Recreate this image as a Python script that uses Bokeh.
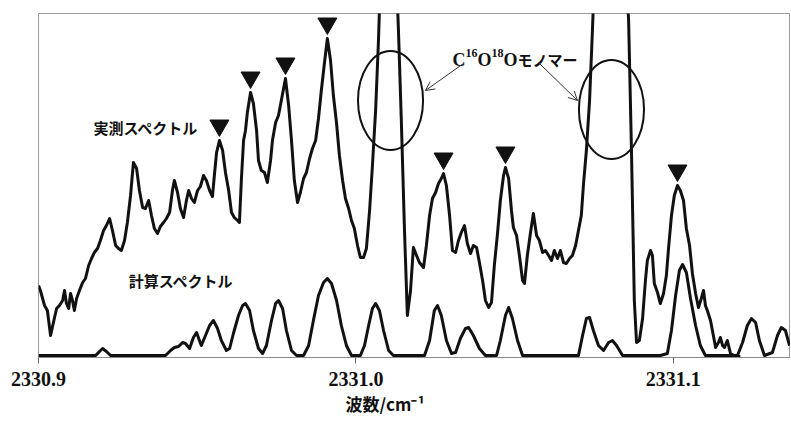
from bokeh.plotting import figure
from bokeh.models import Range1d, FixedTicker, PrintfTickFormatter, Title, Arrow, OpenHead
from bokeh.core.properties import value
from bokeh.embed import file_html
from bokeh.resources import INLINE
import numpy as np

# ---------------- data ----------------
# observed spectrum (wavenumber / cm-1, intensity a.u.)
obs_x = [
    2330.9000, 2330.9006, 2330.9019, 2330.9028, 2330.9038, 2330.9047, 2330.9057, 2330.9066, 2330.9076, 2330.9082,
    2330.9088, 2330.9095, 2330.9101, 2330.9107, 2330.9113, 2330.9120, 2330.9129, 2330.9139, 2330.9148, 2330.9158,
    2330.9167, 2330.9176, 2330.9186, 2330.9195, 2330.9205, 2330.9214, 2330.9224, 2330.9233, 2330.9243, 2330.9252,
    2330.9261, 2330.9271, 2330.9280, 2330.9290, 2330.9299, 2330.9309, 2330.9318, 2330.9328, 2330.9337, 2330.9347,
    2330.9356, 2330.9365, 2330.9375, 2330.9384, 2330.9394, 2330.9403, 2330.9413, 2330.9422, 2330.9428, 2330.9438,
    2330.9447, 2330.9457, 2330.9466, 2330.9473, 2330.9482, 2330.9491, 2330.9501, 2330.9510, 2330.9520, 2330.9529,
    2330.9539, 2330.9548, 2330.9554, 2330.9561, 2330.9570, 2330.9580, 2330.9589, 2330.9599, 2330.9608, 2330.9617,
    2330.9627, 2330.9633, 2330.9639, 2330.9646, 2330.9652, 2330.9658, 2330.9668, 2330.9677, 2330.9687, 2330.9693,
    2330.9702, 2330.9712, 2330.9721, 2330.9731, 2330.9737, 2330.9747, 2330.9756, 2330.9765, 2330.9778, 2330.9788,
    2330.9797, 2330.9806, 2330.9816, 2330.9825, 2330.9835, 2330.9844, 2330.9854, 2330.9863, 2330.9873, 2330.9882,
    2330.9891, 2330.9901, 2330.9910, 2330.9920, 2330.9929, 2330.9939, 2330.9948, 2330.9958, 2330.9967, 2330.9977,
    2330.9986, 2330.9995, 2331.0005, 2331.0014, 2331.0024, 2331.0033, 2331.0043, 2331.0052, 2331.0062, 2331.0071,
    2331.0077, 2331.0103, 2331.0128, 2331.0134, 2331.0143, 2331.0153, 2331.0162, 2331.0172, 2331.0181, 2331.0191,
    2331.0200, 2331.0213, 2331.0222, 2331.0232, 2331.0241, 2331.0251, 2331.0260, 2331.0269, 2331.0276, 2331.0285,
    2331.0295, 2331.0304, 2331.0314, 2331.0323, 2331.0332, 2331.0342, 2331.0351, 2331.0361, 2331.0370, 2331.0380,
    2331.0389, 2331.0399, 2331.0408, 2331.0418, 2331.0427, 2331.0436, 2331.0446, 2331.0455, 2331.0465, 2331.0471,
    2331.0481, 2331.0490, 2331.0496, 2331.0506, 2331.0515, 2331.0525, 2331.0531, 2331.0540, 2331.0550, 2331.0559,
    2331.0569, 2331.0578, 2331.0588, 2331.0597, 2331.0607, 2331.0616, 2331.0625, 2331.0635, 2331.0644, 2331.0654,
    2331.0663, 2331.0673, 2331.0682, 2331.0692, 2331.0701, 2331.0710, 2331.0717, 2331.0726, 2331.0736, 2331.0745,
    2331.0751, 2331.0802, 2331.0852, 2331.0859, 2331.0868, 2331.0877, 2331.0884, 2331.0893, 2331.0903, 2331.0912,
    2331.0918, 2331.0928, 2331.0934, 2331.0940, 2331.0950, 2331.0959, 2331.0969, 2331.0978, 2331.0985, 2331.0994,
    2331.1003, 2331.1013, 2331.1022, 2331.1032, 2331.1041, 2331.1051, 2331.1060, 2331.1070, 2331.1079, 2331.1088,
    2331.1095, 2331.1101, 2331.1107, 2331.1117, 2331.1126, 2331.1133, 2331.1142, 2331.1148, 2331.1155, 2331.1161,
    2331.1170, 2331.1180, 2331.1196, 2331.1211,
]
obs_y = [
    72, 67, 52, 47, 22, 35, 49, 52, 57, 67,
    54, 49, 64, 57, 47, 59, 67, 75, 79, 92,
    99, 105, 109, 117, 127, 132, 139, 127, 112, 109,
    107, 117, 135, 162, 195, 189, 167, 150, 149, 157,
    142, 129, 124, 131, 135, 139, 145, 167, 177, 165,
    149, 140, 157, 167, 159, 155, 167, 171, 182, 177,
    167, 161, 182, 205, 217, 207, 185, 167, 145, 140,
    137, 135, 177, 217, 227, 245, 265, 254, 227, 197,
    187, 185, 175, 197, 217, 235, 242, 257, 279, 252,
    217, 177, 155, 165, 179, 185, 199, 209, 217, 239,
    267, 295, 319, 297, 262, 234, 202, 177, 159, 149,
    137, 129, 112, 100, 100, 109, 147, 192, 247, 317,
    377, 417, 377, 327, 237, 127, 42, 67, 110, 102,
    95, 90, 112, 142, 159, 165, 174, 179, 184, 172,
    142, 107, 105, 117, 125, 132, 114, 104, 112, 110,
    95, 77, 57, 50, 55, 92, 124, 157, 182, 190,
    179, 147, 130, 122, 102, 77, 74, 102, 125, 144,
    122, 117, 105, 107, 102, 97, 107, 99, 107, 95,
    94, 99, 102, 112, 127, 142, 174, 207, 257, 327,
    377, 417, 377, 337, 207, 57, 15, 17, 39, 77,
    97, 107, 102, 74, 65, 54, 64, 82, 110, 142,
    162, 172, 167, 157, 129, 112, 84, 64, 50, 59,
    67, 52, 47, 37, 22, 10, 15, 20, 12, 10,
    17, 4, 1, 1,
]

# calculated spectrum
calc_x = [
    2330.9000, 2330.9180, 2330.9192, 2330.9202, 2330.9214, 2330.9227, 2330.9400, 2330.9416, 2330.9428, 2330.9441,
    2330.9454, 2330.9463, 2330.9476, 2330.9488, 2330.9498, 2330.9507, 2330.9513, 2330.9526, 2330.9539, 2330.9551,
    2330.9564, 2330.9576, 2330.9592, 2330.9602, 2330.9614, 2330.9630, 2330.9643, 2330.9652, 2330.9665, 2330.9677,
    2330.9693, 2330.9706, 2330.9718, 2330.9734, 2330.9747, 2330.9756, 2330.9769, 2330.9781, 2330.9797, 2330.9813,
    2330.9835, 2330.9851, 2330.9866, 2330.9882, 2330.9898, 2330.9910, 2330.9923, 2330.9939, 2330.9954, 2330.9970,
    2330.9986, 2331.0014, 2331.0027, 2331.0040, 2331.0052, 2331.0062, 2331.0074, 2331.0087, 2331.0103, 2331.0118,
    2331.0216, 2331.0232, 2331.0247, 2331.0257, 2331.0269, 2331.0285, 2331.0301, 2331.0314, 2331.0329, 2331.0345,
    2331.0355, 2331.0370, 2331.0389, 2331.0408, 2331.0443, 2331.0455, 2331.0471, 2331.0481, 2331.0493, 2331.0509,
    2331.0525, 2331.0701, 2331.0714, 2331.0726, 2331.0736, 2331.0748, 2331.0764, 2331.0780, 2331.0796, 2331.0808,
    2331.0821, 2331.0840, 2331.0959, 2331.0981, 2331.0994, 2331.1007, 2331.1019, 2331.1029, 2331.1041, 2331.1054,
    2331.1070, 2331.1085, 2331.1101, 2331.1202, 2331.1218, 2331.1233, 2331.1246, 2331.1259, 2331.1271, 2331.1287,
    2331.1312, 2331.1328, 2331.1340, 2331.1353, 2331.1366,
]
calc_y = [
    2, 2, 6, 9, 6, 2, 2, 7, 10, 11,
    15, 14, 9, 20, 25, 17, 12, 22, 32, 37,
    29, 17, 7, 9, 24, 42, 52, 54, 47, 27,
    9, 4, 12, 37, 54, 57, 49, 27, 7, 2,
    2, 12, 37, 62, 75, 79, 74, 57, 32, 12,
    2, 2, 12, 32, 49, 54, 47, 27, 7, 2,
    2, 17, 47, 52, 42, 17, 4, 5, 19, 29,
    30, 22, 9, 2, 2, 17, 42, 50, 39, 17,
    2, 2, 22, 39, 40, 27, 12, 7, 15, 17,
    12, 2, 2, 4, 27, 62, 87, 93, 85, 59,
    32, 12, 2, 2, 15, 32, 39, 35, 17, 2,
    5, 22, 30, 27, 12,
]

# assigned peaks (marked with ▼)
marked_peaks = [2330.9570, 2330.9668, 2330.9778, 2330.9910, 2331.0276, 2331.0471, 2331.1013]
# C16O18O monomer lines (circled)
monomer_peaks = [2331.0109, 2331.0805]
monomer_level = [257, 248]

tick_values = [2330.9, 2331.0, 2331.1]
series_labels = ["実測スペクトル", "計算スペクトル"]
monomer_main = ["C", "O", "O"]          # C16O18O monomer label pieces
monomer_sup = ["16", "18"]
monomer_kana = "モノマー"
x_title = "波数/cm⁻¹"

# ---------------- figure ----------------
p = figure(width=790, height=420, output_backend="svg", toolbar_location=None,
           x_range=Range1d(2330.9, 2331.1369), y_range=Range1d(0, 344),
           y_axis_location=None, min_border_left=38, min_border_right=0,
           min_border_top=13, min_border_bottom=63)
p.xgrid.visible = False
p.ygrid.visible = False
p.outline_line_color = "#9a9a9a"
p.outline_line_width = 1
p.background_fill_color = "white"
p.border_fill_color = "white"

ink = "#111111"
p.line(obs_x, obs_y, line_color=ink, line_width=3, line_join="round")
p.line(calc_x, calc_y, line_color=ink, line_width=3, line_join="round")

tri_y = [float(np.interp(v, obs_x, obs_y)) + 15 for v in marked_peaks]
p.scatter(marked_peaks, tri_y, marker="inverted_triangle", size=19,
          fill_color=ink, line_color=ink)

p.ellipse(x=monomer_peaks, y=monomer_level, width=0.0205, height=99,
          fill_color=None, line_color=ink, line_width=2)

p.add_layout(Arrow(end=OpenHead(size=9, line_width=1, line_color="#333333"),
                   x_start=2331.0339, y_start=294, x_end=2331.0219, y_end=267,
                   line_width=1, line_color="#333333"))
p.add_layout(Arrow(end=OpenHead(size=9, line_width=1, line_color="#333333"),
                   x_start=2331.0575, y_start=295, x_end=2331.0698, y_end=257,
                   line_width=1, line_color="#333333"))

p.text(x=[2330.9173, 2330.9284], y=[230, 77], text=series_labels,
       text_font=value("Noto Sans CJK JP"), text_font_style="bold",
       text_font_size="15px", text_align="left", text_baseline="middle",
       text_color=ink)

# "C16O18Oモノマー" annotation built from pieces
ax0, ay0 = 2331.0304, 298
p.text(x=[ax0] * 3, y=[ay0] * 3, text=monomer_main, x_offset=[0, 25, 51],
       text_font=value("Liberation Serif"), text_font_style="bold",
       text_font_size="18px", text_align="left", text_baseline="alphabetic",
       text_color=ink)
p.text(x=[ax0] * 2, y=[ay0 + 7] * 2, text=monomer_sup, x_offset=[13, 39],
       text_font=value("Liberation Serif"), text_font_style="bold",
       text_font_size="12px", text_align="left", text_baseline="alphabetic",
       text_color=ink)
p.text(x=[ax0], y=[ay0], text=[monomer_kana], x_offset=[65],
       text_font=value("Noto Sans CJK JP"), text_font_style="bold",
       text_font_size="15px", text_align="left", text_baseline="alphabetic",
       text_color=ink)

ax = p.xaxis[0]
ax.ticker = FixedTicker(ticks=tick_values)
ax.formatter = PrintfTickFormatter(format="%.1f")
ax.minor_tick_line_color = None
ax.major_tick_in = 0
ax.major_tick_out = 6
ax.major_tick_line_color = "#666666"
ax.axis_line_color = "#8a8a8a"
ax.axis_line_width = 1
ax.major_label_text_font = "Liberation Serif"
ax.major_label_text_font_style = "bold"
ax.major_label_text_font_size = "20px"
ax.major_label_text_color = ink
ax.major_label_standoff = 8

p.add_layout(Title(text=x_title, align="left", offset=307, standoff=0,
                   text_font="Noto Sans CJK JP", text_font_style="bold",
                   text_font_size="17px", text_color=ink), "below")

open("out.html", "w").write(file_html(p, INLINE))
